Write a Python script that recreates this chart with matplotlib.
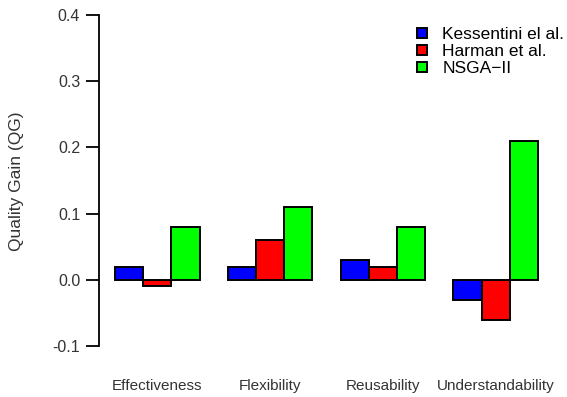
import matplotlib.pyplot as plt
import numpy as np

plt.rcParams['font.family'] = ['Liberation Sans', 'DejaVu Sans']

categories = ['Effectiveness', 'Flexibility', 'Reusability', 'Understandability']
series_names = ['Kessentini el al.', 'Harman et al.', 'NSGA\u2212II']
kessentini = [0.02, 0.02, 0.03, -0.03]
harman = [-0.01, 0.06, 0.02, -0.06]
nsga = [0.08, 0.11, 0.08, 0.21]
colors = ['#0000ff', '#ff0000', '#00ff00']

fig = plt.figure(figsize=(5.67, 3.97), dpi=100)
ax = fig.add_axes([99 / 567, 1 - 346 / 397, (552 - 99) / 567, (346 - 15) / 397])

# R-style beside barplot: bars width 1, one bar gap between groups
group_start = 1 + 4 * np.arange(len(categories))
for i, (vals, col, name) in enumerate(zip([kessentini, harman, nsga], colors, series_names)):
    ax.bar(group_start + i, vals, width=1, align='edge', color=col,
           edgecolor='black', linewidth=1.4, label=name)

ax.set_xlim(1 - 16 / 28.2, 16 + 14 / 28.2)
ax.set_ylim(-0.1, 0.4)
ax.set_yticks([-0.1, 0.0, 0.1, 0.2, 0.3, 0.4])
ax.set_yticklabels(['-0.1', '0.0', '0.1', '0.2', '0.3', '0.4'])
ax.set_xticks(group_start + 1.5)
ax.set_xticklabels(categories)

for s in ['top', 'right', 'bottom']:
    ax.spines[s].set_visible(False)
ax.spines['left'].set_linewidth(1.3)
ax.tick_params(axis='y', length=9.5, width=1.3, labelsize=11.5, labelcolor='#333333', pad=4)
ax.tick_params(axis='x', length=0, labelsize=11, labelcolor='#333333', pad=24)

fig.text(17 / 567, 1 - 181 / 397, 'Quality Gain (QG)', rotation=90,
         ha='center', va='center', fontsize=12.5, color='#333333')

ax.legend(loc='upper left', bbox_to_anchor=(417 / 567, 1 - 27 / 397),
          bbox_transform=fig.transFigure, frameon=False, fontsize=12.5,
          handlelength=0.55, handleheight=0.55, handletextpad=0.9,
          labelspacing=0.12, borderaxespad=0, borderpad=0)

fig.savefig('out.png', dpi=100)
